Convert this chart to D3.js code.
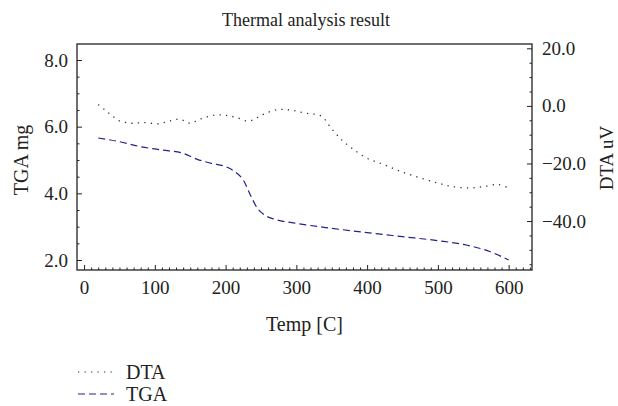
<!DOCTYPE html>
<html>
<head>
<meta charset="utf-8">
<script src="https://cdn.jsdelivr.net/npm/d3@7"></script>
<style>
  body { margin: 0; background: #fff; }
  svg text { font-family: "Liberation Serif", "DejaVu Serif", serif; fill: #222; }
</style>
</head>
<body>
<div id="chart"></div>
<script>
// temperatures [C] and readings
const tgaTemp = [20, 50, 80, 110, 140, 160, 180, 200, 215, 225, 235, 245, 255, 270, 300, 350, 400, 450, 500, 540, 570, 600];
const tgaMass = [5.66, 5.55, 5.40, 5.30, 5.20, 5.02, 4.90, 4.80, 4.62, 4.40, 3.95, 3.55, 3.35, 3.22, 3.10, 2.95, 2.82, 2.70, 2.58, 2.45, 2.28, 2.00];

const dtaTemp = [20, 30, 40, 50, 65, 85, 105, 120, 135, 150, 165, 185, 200, 215, 232, 245, 260, 278, 295, 315, 335, 350, 365, 380, 400, 425, 450, 475, 500, 520, 545, 565, 585, 600];
const dtaSignal = [0.5, -1.5, -3.5, -5.2, -6.0, -5.8, -6.2, -5.3, -4.6, -6.0, -4.5, -3.2, -3.3, -4.0, -5.3, -4.0, -2.2, -1.2, -1.6, -2.6, -3.5, -8.0, -12.0, -15.0, -18.2, -20.5, -23.0, -25.0, -26.8, -28.0, -28.5, -28.0, -27.3, -28.5];

const xTicks = [0, 100, 200, 300, 400, 500, 600];
const tgaTicks = [2, 4, 6, 8];
const dtaTicks = [-40, -20, 0, 20];

const width = 618, height = 406;
const margin = {top: 44, right: 86, bottom: 136, left: 77};
const x0 = margin.left, x1 = width - margin.right;
const y0 = margin.top, y1 = height - margin.bottom;

const svg = d3.select("#chart").append("svg")
    .attr("width", width)
    .attr("height", height);

const x = d3.scaleLinear().domain([-10, 633]).range([x0, x1]);
const yL = d3.scaleLinear().domain([1.7, 8.48]).range([y1, y0]);
const yR = d3.scaleLinear().domain([-57, 21.5]).range([y1, y0]);

// minor ticks
function minor(axisGen, g, values) {
    g.append("g").call(axisGen.tickValues(values).tickFormat("").tickSize(-2.5).tickSizeOuter(0))
        .select(".domain").remove();
}

const gx = svg.append("g").attr("transform", `translate(0,${y1})`);
minor(d3.axisBottom(x), gx, d3.range(0, 631, 10).filter(d => d % 100));
gx.append("g").call(d3.axisBottom(x).tickValues(xTicks).tickSize(-5).tickSizeOuter(0).tickPadding(11).tickFormat(d3.format("d")));

const gl = svg.append("g").attr("transform", `translate(${x0},0)`);
minor(d3.axisLeft(yL), gl, d3.range(2, 8.5, 0.5).filter(d => d % 2));
gl.append("g").call(d3.axisLeft(yL).tickValues(tgaTicks).tickSize(-5).tickSizeOuter(0).tickPadding(9).tickFormat(d3.format(".1f")));

const gr = svg.append("g").attr("transform", `translate(${x1},0)`);
minor(d3.axisRight(yR), gr, d3.range(-55, 21, 5).filter(d => d % 20));
gr.append("g").call(d3.axisRight(yR).tickValues(dtaTicks).tickSize(-5).tickSizeOuter(0).tickPadding(10)
    .tickFormat(d => d < 0 ? "\u2212" + d3.format(".1f")(-d) : d3.format(".1f")(d)));

svg.selectAll(".domain").remove();
svg.selectAll(".tick line").attr("stroke", "#222");
svg.selectAll(".tick text").attr("font-size", 19).attr("fill", "#222");

// frame
svg.append("rect")
    .attr("x", x0).attr("y", y0)
    .attr("width", x1 - x0).attr("height", y1 - y0)
    .attr("fill", "none").attr("stroke", "#222").attr("stroke-width", 1.3);

const lineT = d3.line().x(d => x(d[0])).y(d => yL(d[1])).curve(d3.curveMonotoneX);
const lineD = d3.line().x(d => x(d[0])).y(d => yR(d[1])).curve(d3.curveCatmullRom.alpha(0.5));

svg.append("path")
    .datum(dtaTemp.map((t, i) => [t, dtaSignal[i]]))
    .attr("d", lineD)
    .attr("fill", "none").attr("stroke", "#333").attr("stroke-width", 1.3)
    .attr("stroke-dasharray", "1.3,5.2");

svg.append("path")
    .datum(tgaTemp.map((t, i) => [t, tgaMass[i]]))
    .attr("d", lineT)
    .attr("fill", "none").attr("stroke", "#22228a").attr("stroke-width", 1.2)
    .attr("stroke-dasharray", "7,4");

// titles
svg.append("text").attr("x", 306).attr("y", 26).attr("text-anchor", "middle")
    .attr("font-size", 18).text("Thermal analysis result");
svg.append("text").attr("x", (x0 + x1) / 2).attr("y", 331).attr("text-anchor", "middle")
    .attr("font-size", 20).text("Temp [C]");
svg.append("text").attr("transform", `translate(28,160) rotate(-90)`)
    .attr("text-anchor", "middle").attr("font-size", 20).text("TGA mg");
svg.append("text").attr("transform", `translate(613,158) rotate(-90)`)
    .attr("text-anchor", "middle").attr("font-size", 19).text("DTA uV");

// legend
const legend = [
    {name: "DTA", color: "#333", dash: "1.3,5.2"},
    {name: "TGA", color: "#22228a", dash: "7,4"}
];
const lg = svg.selectAll(".leg").data(legend).enter().append("g")
    .attr("transform", (d, i) => `translate(78,${372 + i * 22})`);
lg.append("line").attr("x1", 0).attr("x2", 36).attr("y1", 0).attr("y2", 0)
    .attr("stroke", d => d.color).attr("stroke-width", 1.2)
    .attr("stroke-dasharray", d => d.dash);
lg.append("text").attr("x", 48).attr("y", 7).attr("font-size", 20).text(d => d.name);
</script>
</body>
</html>
